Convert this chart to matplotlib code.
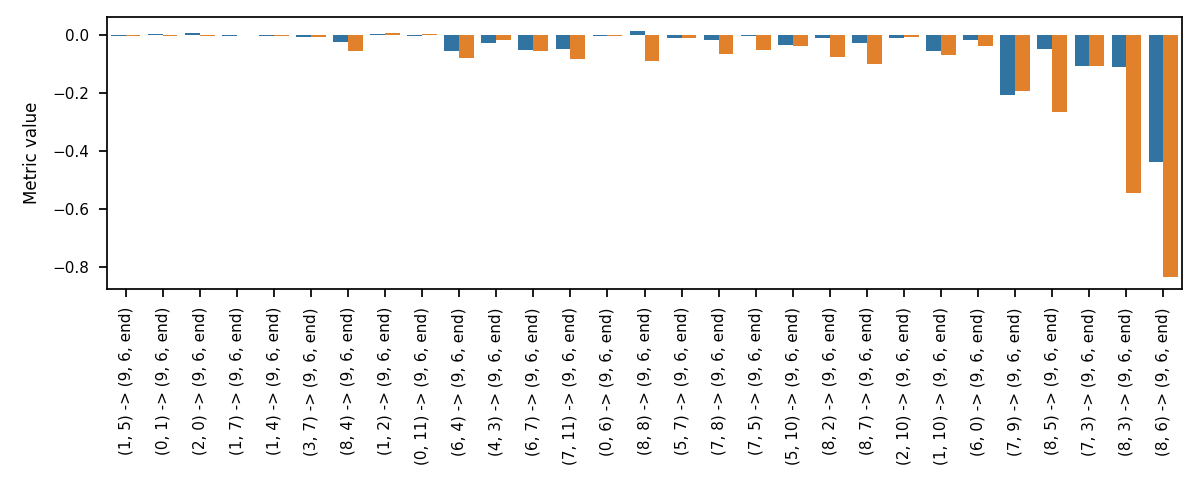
import matplotlib
matplotlib.use("Agg")
import matplotlib.pyplot as plt
import numpy as np

categories = [
    "(1, 5) -> (9, 6, end)", "(0, 1) -> (9, 6, end)", "(2, 0) -> (9, 6, end)",
    "(1, 7) -> (9, 6, end)", "(1, 4) -> (9, 6, end)", "(3, 7) -> (9, 6, end)",
    "(8, 4) -> (9, 6, end)", "(1, 2) -> (9, 6, end)", "(0, 11) -> (9, 6, end)",
    "(6, 4) -> (9, 6, end)", "(4, 3) -> (9, 6, end)", "(6, 7) -> (9, 6, end)",
    "(7, 11) -> (9, 6, end)", "(0, 6) -> (9, 6, end)", "(8, 8) -> (9, 6, end)",
    "(5, 7) -> (9, 6, end)", "(7, 8) -> (9, 6, end)", "(7, 5) -> (9, 6, end)",
    "(5, 10) -> (9, 6, end)", "(8, 2) -> (9, 6, end)", "(8, 7) -> (9, 6, end)",
    "(2, 10) -> (9, 6, end)", "(1, 10) -> (9, 6, end)", "(6, 0) -> (9, 6, end)",
    "(7, 9) -> (9, 6, end)", "(8, 5) -> (9, 6, end)", "(7, 3) -> (9, 6, end)",
    "(8, 3) -> (9, 6, end)", "(8, 6) -> (9, 6, end)",
]

series_a = [
    -0.003, 0.004, 0.008, -0.002, -0.003, -0.007, -0.023, 0.003, -0.002,
    -0.056, -0.026, -0.051, -0.048, -0.002, 0.015, -0.009, -0.017, -0.002,
    -0.033, -0.010, -0.028, -0.009, -0.055, -0.018, -0.208, -0.047, -0.108,
    -0.111, -0.437,
]

series_b = [
    -0.003, -0.002, -0.003, -0.001, -0.004, -0.006, -0.056, 0.008, 0.005,
    -0.078, -0.018, -0.055, -0.084, -0.004, -0.089, -0.009, -0.067, -0.051,
    -0.037, -0.075, -0.099, -0.007, -0.069, -0.038, -0.194, -0.267, -0.108,
    -0.544, -0.833,
]

color_a = "#3274a1"
color_b = "#e1812c"

plt.rcParams.update({
    "axes.linewidth": 1.25,
    "xtick.major.size": 6,
    "ytick.major.size": 6,
    "xtick.major.width": 1.25,
    "ytick.major.width": 1.25,
    "xtick.major.pad": 7,
    "ytick.major.pad": 7,
})

fig = plt.figure(figsize=(12, 5), dpi=100)
ax = fig.add_axes([107 / 1200, 1 - 289 / 500, (1182 - 107) / 1200, (289 - 17.3) / 500])

x = np.arange(len(categories))
w = 0.4
ax.bar(x - w / 2, series_a, width=w, color=color_a, linewidth=0)
ax.bar(x + w / 2, series_b, width=w, color=color_b, linewidth=0)

ax.set_xlim(-0.5, len(categories) - 0.5)
ax.set_ylim(-0.876, 0.061)
ax.set_xticks(x)
ax.set_xticklabels(categories, rotation=90, fontsize=11)
ax.tick_params(axis="y", labelsize=11)
ax.set_yticks([0.0, -0.2, -0.4, -0.6, -0.8])
ax.set_ylabel("Metric value", fontsize=12, labelpad=8)

fig.savefig("out.png", dpi=100)
